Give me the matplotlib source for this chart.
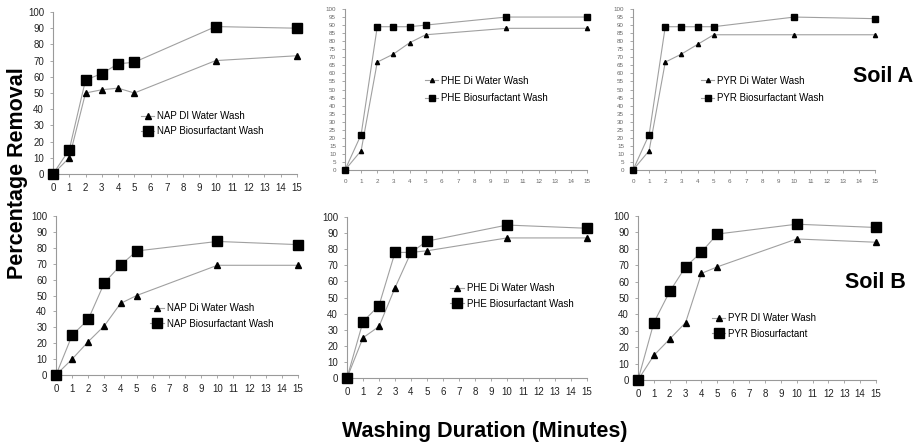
import matplotlib
matplotlib.use("Agg")
import matplotlib.pyplot as plt

plt.rcParams['font.family'] = ['Liberation Sans', 'DejaVu Sans']

minutes = [0, 1, 2, 3, 4, 5, 10, 15]

# Soil A
nap_a_water = [0, 10, 50, 52, 53, 50, 70, 73]
nap_a_bio = [0, 15, 58, 62, 68, 69, 91, 90]
phe_a_water = [0, 12, 67, 72, 79, 84, 88, 88]
phe_a_bio = [0, 22, 89, 89, 89, 90, 95, 95]
pyr_a_water = [0, 12, 67, 72, 78, 84, 84, 84]
pyr_a_bio = [0, 22, 89, 89, 89, 89, 95, 94]

# Soil B
nap_b_water = [0, 10, 21, 31, 45, 50, 69, 69]
nap_b_bio = [0, 25, 35, 58, 69, 78, 84, 82]
phe_b_water = [0, 25, 32, 56, 78, 79, 87, 87]
phe_b_bio = [0, 35, 45, 78, 78, 85, 95, 93]
pyr_b_water = [0, 15, 25, 35, 65, 69, 86, 84]
pyr_b_bio = [0, 35, 54, 69, 78, 89, 95, 93]

x_ticks = list(range(0, 16))

W, H = 914, 443
fig = plt.figure(figsize=(W / 100, H / 100), dpi=100)


def box(left, right, top, bottom):
    return [left / W, 1 - bottom / H, (right - left) / W, (bottom - top) / H]


def panel(rect, water, bio, water_label, bio_label, leg_xy, ystep=10,
          fs=7, leg_fs=7, tick_color='#222222', ms=(5, 7), spacing=0.55):
    ax = fig.add_axes(rect)
    ax.plot(minutes, water, color='#a0a0a0', lw=0.8, marker='^', ms=ms[0],
            mfc='black', mec='black', clip_on=False, zorder=3, label=water_label)
    ax.plot(minutes, bio, color='#a0a0a0', lw=0.8, marker='s', ms=ms[1],
            mfc='black', mec='black', clip_on=False, zorder=3, label=bio_label)
    ax.set_xlim(0, 15)
    ax.set_ylim(0, 100)
    ax.set_xticks(x_ticks)
    ax.set_yticks(range(0, 101, ystep))
    for s in ['top', 'right']:
        ax.spines[s].set_visible(False)
    for s in ['left', 'bottom']:
        ax.spines[s].set_color('#9a9a9a')
        ax.spines[s].set_linewidth(0.8)
    ax.tick_params(length=2.5, width=0.6, color='#9a9a9a', labelsize=fs,
                   labelcolor=tick_color, pad=4)
    ax.legend(loc='center left', bbox_to_anchor=leg_xy, frameon=False,
              fontsize=leg_fs, handlelength=1.4, handletextpad=0.3,
              labelspacing=spacing, borderpad=0, borderaxespad=0)
    return ax


# top row, soil A
panel(box(53, 297, 12, 174), nap_a_water, nap_a_bio,
      'NAP DI Water Wash', 'NAP Biosurfactant Wash', (0.36, 0.31))
panel(box(345, 587, 9, 170), phe_a_water, phe_a_bio,
      'PHE Di Water Wash', 'PHE Biosurfactant Wash', (0.33, 0.5),
      ystep=5, fs=4.5, tick_color='#666666', ms=(3, 4), spacing=0.8)
panel(box(633, 875, 9, 170), pyr_a_water, pyr_a_bio,
      'PYR Di Water Wash', 'PYR Biosurfactant Wash', (0.28, 0.5),
      ystep=5, fs=4.5, tick_color='#666666', ms=(3, 4), spacing=0.8)

# bottom row, soil B
panel(box(56, 298, 216, 375), nap_b_water, nap_b_bio,
      'NAP Di Water Wash', 'NAP Biosurfactant Wash', (0.39, 0.37))
panel(box(347, 587, 217, 378), phe_b_water, phe_b_bio,
      'PHE Di Water Wash', 'PHE Biosurfactant Wash', (0.43, 0.51))
panel(box(638, 876, 216, 380), pyr_b_water, pyr_b_bio,
      'PYR DI Water Wash', 'PYR Biosurfactant', (0.31, 0.33))

fig.text(18 / W, 1 - 173 / H, 'Percentage Removal', rotation=90,
         ha='center', va='center', fontsize=15.5, fontweight='bold')
fig.text(485 / W, 1 - 432 / H, 'Washing Duration (Minutes)',
         ha='center', va='center', fontsize=15.5, fontweight='bold')
fig.text(883 / W, 1 - 76 / H, 'Soil A', ha='center', va='center',
         fontsize=15.5, fontweight='bold')
fig.text(875 / W, 1 - 283 / H, 'Soil B', ha='center', va='center',
         fontsize=15.5, fontweight='bold')

fig.savefig('out.png', dpi=100, facecolor='white')
